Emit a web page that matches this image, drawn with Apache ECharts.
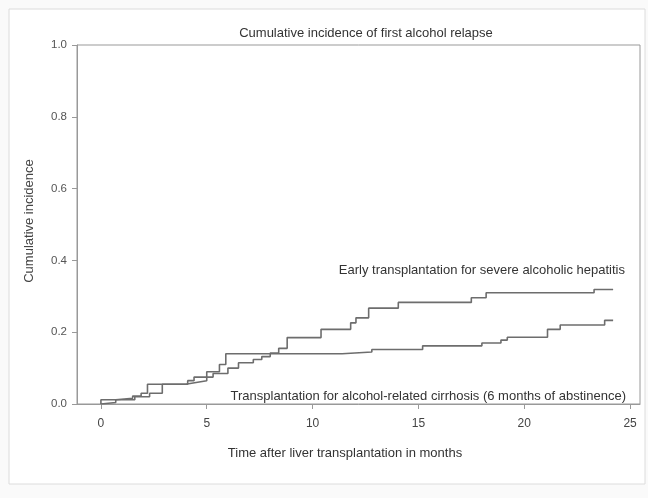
<!DOCTYPE html>
<html>
<head>
<meta charset="utf-8">
<script src="https://cdn.jsdelivr.net/npm/echarts@6/dist/echarts.min.js"></script>
<style>
  html, body { margin: 0; padding: 0; background: #fafafa; }
  #container { width: 648px; height: 498px; }
</style>
</head>
<body>
<div id="container"></div>
<script>
// step points [month, cumulative incidence], value holds from that month on
var earlyTimes  = [0, 0, 0.7, 1.6, 2.3, 2.9, 4.0, 4.5, 5.0, 5.3, 6.0, 6.5, 7.2, 7.6, 8.0, 8.4, 8.8, 10.4, 11.8, 12.05, 12.65, 14.05, 17.5, 18.2, 23.3, 24.2];
var earlyValues = [0, 0.004, 0.012, 0.02, 0.03, 0.055, 0.06, 0.065, 0.075, 0.085, 0.10, 0.115, 0.124, 0.132, 0.142, 0.155, 0.185, 0.208, 0.226, 0.24, 0.267, 0.283, 0.296, 0.31, 0.319, 0.319];

var cirrTimes  = [0, 0, 0.7, 1.5, 1.9, 2.2, 4.1, 4.4, 5.0, 5.6, 5.9, 11.4, 12.8, 15.2, 18.0, 18.9, 19.2, 21.1, 21.7, 23.8, 24.2];
var cirrValues = [0, 0.012, 0.016, 0.022, 0.03, 0.055, 0.065, 0.075, 0.09, 0.11, 0.14, 0.145, 0.152, 0.162, 0.17, 0.178, 0.186, 0.208, 0.22, 0.233, 0.233];

var xTicks = [0, 5, 10, 15, 20, 25];
var yTicks = [0, 0.2, 0.4, 0.6, 0.8, 1.0];

var titleText = 'Cumulative incidence of first alcohol relapse';
var xName = 'Time after liver transplantation in months';
var yName = 'Cumulative incidence';
var earlyName = 'Early transplantation for severe alcoholic hepatitis';
var cirrName = 'Transplantation for alcohol-related cirrhosis (6 months of abstinence)';

function pairs(t, v) {
  var out = [];
  for (var i = 0; i < t.length; i++) out.push([t[i], v[i]]);
  return out;
}

var chart = echarts.init(document.getElementById('container'));
var font = '"Liberation Sans", Arial, sans-serif';
var lineColor = '#6d6d6d';
var axisColor = '#999999';

var option = {
  backgroundColor: '#fafafa',
  animation: false,
  textStyle: { fontFamily: font },
  title: {
    text: titleText,
    left: 361,
    top: 22,
    textAlign: 'center',
    textStyle: { fontSize: 13, fontWeight: 'normal', color: '#333', fontFamily: font }
  },
  grid: {
    show: true,
    left: 77,
    top: 45,
    right: 8,
    bottom: 94,
    borderColor: axisColor,
    borderWidth: 1,
    backgroundColor: '#ffffff'
  },
  xAxis: {
    type: 'value',
    min: -1.13,
    max: 25.47,
    splitLine: { show: false },
    axisLine: { show: true, onZero: false, lineStyle: { color: axisColor } },
    axisTick: { show: true, length: 5, customValues: xTicks, lineStyle: { color: axisColor } },
    axisLabel: { customValues: xTicks, margin: 14, fontSize: 12, color: '#444' }
  },
  yAxis: {
    type: 'value',
    min: 0,
    max: 1,
    splitLine: { show: false },
    axisLine: { show: true, onZero: false, lineStyle: { color: axisColor } },
    axisTick: { show: true, length: 5, customValues: yTicks, lineStyle: { color: axisColor } },
    axisLabel: {
      customValues: yTicks, margin: 10, fontSize: 11.5, color: '#555',
      formatter: function (v) { return v.toFixed(1); }
    }
  },
  graphic: [
    { type: 'rect', silent: true, z: -10,
      shape: { x: 9, y: 9, width: 636, height: 475 },
      style: { fill: '#ffffff', stroke: '#dcdcdc', lineWidth: 1 } },
    { type: 'text', x: 29, y: 221, rotation: Math.PI / 2,
      style: { text: yName, font: '13px ' + font, fill: '#444', align: 'center', verticalAlign: 'middle' } },
    { type: 'text', x: 345, y: 453,
      style: { text: xName, font: '13px ' + font, fill: '#333', align: 'center', verticalAlign: 'middle' } },
    { type: 'text', x: 625, y: 270,
      style: { text: earlyName, font: '13px ' + font, fill: '#333', align: 'right', verticalAlign: 'middle' } },
    { type: 'text', x: 626, y: 396,
      style: { text: cirrName, font: '13px ' + font, fill: '#333', align: 'right', verticalAlign: 'middle' } }
  ],
  series: [
    {
      name: earlyName,
      type: 'line',
      step: 'end',
      symbol: 'none',
      data: pairs(earlyTimes, earlyValues),
      lineStyle: { width: 1.6, color: lineColor }
    },
    {
      name: cirrName,
      type: 'line',
      step: 'end',
      symbol: 'none',
      data: pairs(cirrTimes, cirrValues),
      lineStyle: { width: 1.6, color: lineColor }
    }
  ]
};

chart.setOption(option);
</script>
</body>
</html>
